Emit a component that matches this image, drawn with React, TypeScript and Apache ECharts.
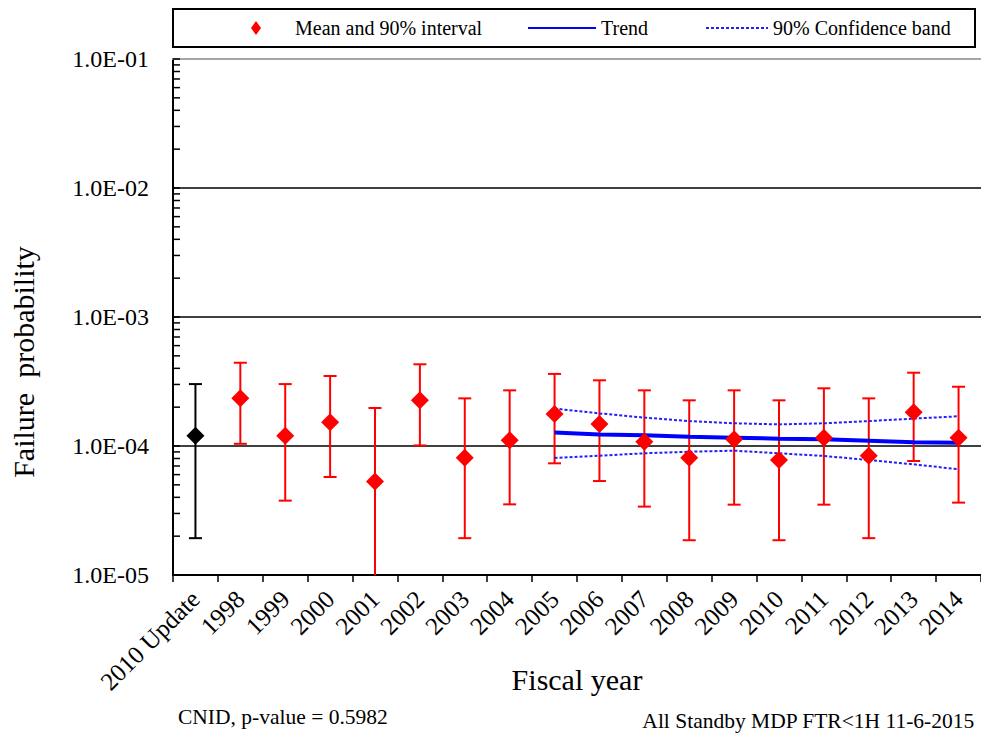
import React, { useEffect, useRef } from "react";
import * as echarts from "echarts";

const categories = [
  "2010 Update", "1998", "1999", "2000", "2001", "2002", "2003", "2004", "2005",
  "2006", "2007", "2008", "2009", "2010", "2011", "2012", "2013", "2014",
];
const meanValues = [
  1.2e-4, 2.34e-4, 1.2e-4, 1.53e-4, 5.3e-5, 2.26e-4, 8.1e-5, 1.11e-4, 1.77e-4,
  1.48e-4, 1.08e-4, 8.1e-5, 1.13e-4, 7.8e-5, 1.16e-4, 8.4e-5, 1.83e-4, 1.16e-4,
];
const lowerValues = [
  1.93e-5, 1.04e-4, 3.77e-5, 5.75e-5, 8e-6, 1.01e-4, 1.93e-5, 3.53e-5, 7.34e-5,
  5.35e-5, 3.39e-5, 1.86e-5, 3.51e-5, 1.86e-5, 3.51e-5, 1.93e-5, 7.65e-5, 3.64e-5,
];
const upperValues = [
  3.02e-4, 4.42e-4, 3.02e-4, 3.49e-4, 1.97e-4, 4.3e-4, 2.34e-4, 2.7e-4, 3.62e-4,
  3.23e-4, 2.7e-4, 2.26e-4, 2.7e-4, 2.26e-4, 2.8e-4, 2.34e-4, 3.7e-4, 2.88e-4,
];
const trendYears = ["2005", "2006", "2007", "2008", "2009", "2010", "2011", "2012", "2013", "2014"];
const trendValues = [1.27e-4, 1.23e-4, 1.21e-4, 1.18e-4, 1.16e-4, 1.14e-4, 1.13e-4, 1.1e-4, 1.07e-4, 1.06e-4];
const bandUpper = [1.95e-4, 1.79e-4, 1.66e-4, 1.56e-4, 1.5e-4, 1.47e-4, 1.5e-4, 1.56e-4, 1.63e-4, 1.7e-4];
const bandLower = [8.07e-5, 8.41e-5, 8.78e-5, 9.03e-5, 9.2e-5, 8.78e-5, 8.37e-5, 7.79e-5, 7.21e-5, 6.6e-5];
const yTickLabels = ["1.0E-05", "1.0E-04", "1.0E-03", "1.0E-02", "1.0E-01"];
const minorTickMultipliers = [2, 3, 4, 5, 6, 7, 8, 9];
const decades = [1e-5, 1e-4, 1e-3, 1e-2];

const FONT = "Liberation Serif";
// legend icon: small diamond centred in a 68x14 box (degenerate end points keep the box width)
const LEGEND_DIAMOND =
  "path://M0,7L0.01,7Z M29,7L34,0L39,7L34,14Z M67.99,7L68,7Z";

export default function App() {
  const ref = useRef<HTMLDivElement>(null);
  useEffect(() => {
    if (!ref.current) return;
    const chart = echarts.init(ref.current, null, { renderer: "svg" });

    const baselineIdx = 0;
    const annualIdx = categories.map((_, i) => i).filter((i) => i !== baselineIdx);

    const errorRender = (color: string) => (params: any, api: any) => {
      const lo = api.coord([api.value(0), api.value(1)]);
      const hi = api.coord([api.value(0), api.value(2)]);
      const half = 6.5;
      const st = { stroke: color, lineWidth: 2 };
      return {
        type: "group",
        children: [
          { type: "line", shape: { x1: lo[0], y1: lo[1], x2: hi[0], y2: hi[1] }, style: st },
          { type: "line", shape: { x1: hi[0] - half, y1: hi[1], x2: hi[0] + half, y2: hi[1] }, style: st },
          { type: "line", shape: { x1: lo[0] - half, y1: lo[1], x2: lo[0] + half, y2: lo[1] }, style: st },
        ],
      };
    };

    const minorTicks: number[][] = [];
    decades.forEach((d) => minorTickMultipliers.forEach((m) => minorTicks.push([0, d * m])));

    const textStyle = { fontFamily: FONT, fontSize: 20, color: "#000" };

    chart.setOption({
      animation: false,
      backgroundColor: "#fff",
      grid: { left: 173, top: 59, bottom: 165, right: -7, containLabel: false },
      legend: [
        {
          data: [{ name: "Mean and 90% interval", icon: LEGEND_DIAMOND }],
          left: 222, top: 18, padding: 0, symbolKeepAspect: false,
          itemWidth: 68, itemHeight: 14, textStyle, selectedMode: false,
        },
        {
          data: ["Trend"], left: 527, top: 18, padding: 0,
          itemWidth: 68, itemHeight: 14, textStyle, selectedMode: false,
          itemStyle: { opacity: 0 },
        },
        {
          data: ["90% Confidence band"], left: 705, top: 18, padding: 0,
          itemWidth: 62, itemHeight: 14, textStyle, selectedMode: false,
          itemStyle: { opacity: 0 },
        },
      ],
      xAxis: [
        {
          type: "category",
          data: categories,
          boundaryGap: true,
          axisLine: { show: true, lineStyle: { color: "#000", width: 2 } },
          axisTick: { show: true, inside: false, length: 7, lineStyle: { color: "#000", width: 1.5 } },
          axisLabel: {
            interval: 0, rotate: 45, margin: 20,
            fontFamily: FONT, fontSize: 25, color: "#000",
          },
          splitLine: { show: false },
          name: "Fiscal year",
          nameLocation: "middle",
          nameGap: 89,
          nameMoveOverlap: false,
          nameTextStyle: { fontFamily: FONT, fontSize: 30, color: "#000" },
        },
        {
          type: "category",
          data: categories,
          position: "top",
          axisLine: { show: true, lineStyle: { color: "#a6a6a6", width: 2 } },
          axisTick: { show: false },
          axisLabel: { show: false },
          splitLine: { show: false },
        },
      ],
      yAxis: {
        type: "log",
        logBase: 10,
        min: 1e-5,
        max: 1e-1,
        axisLine: { show: true, lineStyle: { color: "#000", width: 2 } },
        axisTick: { show: true, inside: true, length: 7, lineStyle: { color: "#000", width: 1.5 } },
        axisLabel: {
          margin: 24,
          fontFamily: FONT, fontSize: 24, color: "#000",
          formatter: (v: number) => yTickLabels[Math.round(Math.log10(v)) + 5],
        },
        splitLine: { show: true, showMaxLine: false, lineStyle: { color: "#000", width: 1.5 } },
        minorTick: { show: false },
        name: "Failure  probability",
        nameLocation: "middle",
        nameGap: 135,
        nameMoveOverlap: false,
        nameTextStyle: { fontFamily: FONT, fontSize: 30, color: "#000", padding: [0, 90, 0, 0] },
      },
      graphic: [
        {
          type: "rect",
          shape: { x: 173, y: 9, width: 802, height: 38 },
          style: { fill: "none", stroke: "#000", lineWidth: 2 },
          silent: true,
        },
        {
          type: "text", left: 178, top: 706,
          style: { text: "CNID, p-value = 0.5982", fontFamily: FONT, fontSize: 21.5, fill: "#000" },
        },
        {
          type: "text", right: 6, top: 710,
          style: { text: "All Standby MDP FTR<1H 11-6-2015", fontFamily: FONT, fontSize: 21.5, fill: "#000" },
        },
      ],
      series: [
        {
          type: "custom",
          name: "minorTicks",
          silent: true,
          renderItem: (params: any, api: any) => {
            const p = api.coord([0, api.value(1)]);
            const x0 = params.coordSys.x;
            return {
              type: "line",
              shape: { x1: x0, y1: p[1], x2: x0 + 7, y2: p[1] },
              style: { stroke: "#000", lineWidth: 1.5 },
            };
          },
          data: minorTicks,
          z: 5,
        },
        {
          type: "custom",
          name: "baselineInterval",
          clip: true,
          renderItem: errorRender("#000"),
          data: [[baselineIdx, lowerValues[baselineIdx], upperValues[baselineIdx]]],
          z: 3,
        },
        {
          type: "custom",
          name: "annualInterval",
          clip: true,
          renderItem: errorRender("#ff0000"),
          data: annualIdx.map((i) => [i, lowerValues[i], upperValues[i]]),
          z: 3,
        },
        {
          type: "line",
          name: "90% Confidence band",
          data: trendYears.map((y, i) => [y, bandUpper[i]]),
          symbol: "none",
          lineStyle: { color: "#2020ff", width: 2, type: [3, 2] },
          itemStyle: { color: "#2020ff" },
          z: 4,
        },
        {
          type: "line",
          name: "90% Confidence band",
          data: trendYears.map((y, i) => [y, bandLower[i]]),
          symbol: "none",
          lineStyle: { color: "#2020ff", width: 2, type: [3, 2] },
          itemStyle: { color: "#2020ff" },
          z: 4,
        },
        {
          type: "line",
          name: "Trend",
          data: trendYears.map((y, i) => [y, trendValues[i]]),
          symbol: "none",
          lineStyle: { color: "#0000ff", width: 4 },
          itemStyle: { color: "#0000ff" },
          z: 4,
        },
        {
          type: "scatter",
          name: "Baseline",
          symbol: "diamond",
          symbolSize: 18,
          itemStyle: { color: "#000", opacity: 1 },
          data: [[categories[baselineIdx], meanValues[baselineIdx]]],
          z: 6,
        },
        {
          type: "scatter",
          name: "Mean and 90% interval",
          symbol: "diamond",
          symbolSize: 18,
          itemStyle: { color: "#ff0000", opacity: 1 },
          data: annualIdx.map((i) => [categories[i], meanValues[i]]),
          z: 6,
        },
      ],
    });
    return () => chart.dispose();
  }, []);

  return (
    <div
      ref={ref}
      style={{ position: "fixed", left: 0, top: 0, width: 981, height: 740, background: "#fff" }}
    />
  );
}
